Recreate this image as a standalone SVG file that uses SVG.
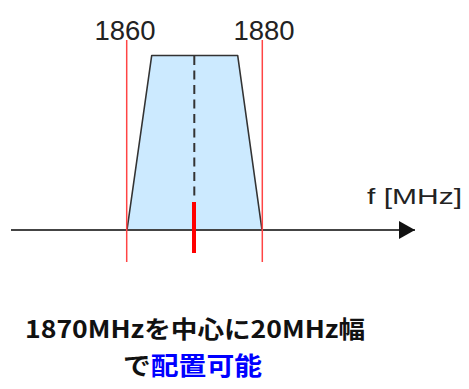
<svg xmlns="http://www.w3.org/2000/svg" width="469" height="389" viewBox="0 0 469 389">
<defs>
<style>
.lbl{font-family:"Liberation Sans","DejaVu Sans",sans-serif;fill:#222}
.cap{font-family:"Noto Sans CJK JP","Noto Sans",sans-serif;font-weight:bold;fill:#111}
</style>
<marker id="arr" viewBox="0 0 16 18" refX="16" refY="9" markerWidth="16" markerHeight="18" markerUnits="userSpaceOnUse" orient="auto">
<path d="M0,0 L16,9 L0,18 Z" fill="#111"/>
</marker>
</defs>
<g id="band">
<path d="M127,230 L151.7,55.5 L237.7,55.5 L262,230 Z" fill="#CCEAFF" stroke="#333" stroke-width="1.6" stroke-linejoin="round"/>
</g>
<g id="connectors">
<line x1="11" y1="230" x2="415" y2="230" stroke="#444" stroke-width="2" marker-end="url(#arr)"/>
<line x1="194.3" y1="56" x2="194.3" y2="200" stroke="#333" stroke-width="2" stroke-dasharray="9 5.5"/>
<line x1="126.7" y1="40" x2="126.7" y2="262" stroke="#FF4444" stroke-width="1.5"/>
<line x1="262.3" y1="40" x2="262.3" y2="262" stroke="#FF4444" stroke-width="1.5"/>
<line x1="194" y1="202" x2="194" y2="253" stroke="#FF0000" stroke-width="4"/>
</g>
<g id="labels">
<text class="lbl" x="125" y="40" font-size="27.5" text-anchor="middle">1860</text>
<text class="lbl" x="264" y="40" font-size="27.5" text-anchor="middle">1880</text>
<text class="lbl" x="367" y="204" font-size="22" textLength="95" lengthAdjust="spacingAndGlyphs">f [MHz]</text>
</g>
<g id="caption">
<text class="cap" x="25" y="338" font-size="24" textLength="340" lengthAdjust="spacingAndGlyphs">1870MHzを中心に20MHz幅</text>
<text class="cap" x="123" y="375" font-size="25" textLength="139" lengthAdjust="spacingAndGlyphs">で<tspan fill="#0000FF">配置可能</tspan></text>
</g>
</svg>
